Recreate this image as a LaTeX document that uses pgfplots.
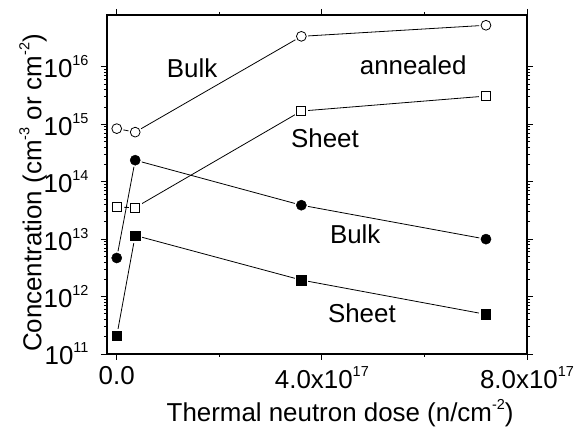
\documentclass[border=0pt]{standalone}
\usepackage{pgfplots}
\pgfplotsset{compat=1.18}
\usepackage{pgfplotstable}
\usepackage{fontspec}
\setmainfont{Liberation Sans}

\newcommand{\sups}[1]{\raisebox{0.46em}{\fontsize{14.5}{15}\selectfont #1}}
\newcommand{\tl}[1]{\hbox{\fontsize{26}{30}\selectfont #1}}

% x in units of 1e17 n/cm^2
\pgfplotstableread{
x y
0    8.4e14
0.36 7.3e14
3.6  3.4e16
7.2  5.3e16
}\bulkann
\pgfplotstableread{
x y
0    3.6e13
0.36 3.55e13
3.6  1.7e15
7.2  3.1e15
}\sheetann
\pgfplotstableread{
x y
0    4.7e12
0.36 2.37e14
3.6  3.9e13
7.2  1.0e13
}\bulk
\pgfplotstableread{
x y
0    2.06e11
0.36 1.16e13
3.6  1.94e12
7.2  4.9e11
}\sheet

\begin{document}
\begin{tikzpicture}
\begin{axis}[
    at={(0,0)},anchor=south west,
    scale only axis,
    width=420bp,height=339bp,
    ymode=log,
    xmin=-0.19,xmax=8,
    ymin=1e11,ymax=8e16,
    xtick={0,4,8},
    xticklabels={\tl{0.0},\tl{4.0x10\sups{17}},\tl{8.0x10\sups{17}}},
    minor xtick={2,6},
    ytick={1e11,1e12,1e13,1e14,1e15,1e16},
    yticklabels={\tl{10\sups{11}},\tl{10\sups{12}},\tl{10\sups{13}},\tl{10\sups{14}},\tl{10\sups{15}},\tl{10\sups{16}}},
    xticklabel pos=bottom,
    yticklabel pos=left,
    yticklabel style={xshift=-9bp},
    xticklabel style={yshift=-3bp},
    tick align=outside,
    major tick length=6bp,
    minor tick length=3bp,
    axis line style={line width=1.1bp},
    every tick/.style={black,line width=0.9bp},
    xlabel={Thermal neutron dose (n/cm\sups{-2})},
    ylabel={Concentration (cm\sups{-3} or cm\sups{-2})},
    label style={font=\fontsize{26}{30}\selectfont},
    xlabel style={at={(axis description cs:0.555,-0.174)},anchor=center},
    ylabel style={at={(axis description cs:-0.176,0.475)},anchor=center},
    clip=false,
]
% connecting lines
\addplot[black,line width=0.8bp] table {\bulkann};
\addplot[black,line width=0.8bp] table {\sheetann};
\addplot[black,line width=0.8bp] table {\bulk};
\addplot[black,line width=0.8bp] table {\sheet};
% white halos so lines stop short of the marks
\addplot[only marks,mark=*,mark size=6.6bp,white] table {\bulkann};
\addplot[only marks,mark=square*,mark size=6.3bp,white] table {\sheetann};
\addplot[only marks,mark=*,mark size=6.6bp,white] table {\bulk};
\addplot[only marks,mark=square*,mark size=6.3bp,white] table {\sheet};
% marks
\addplot[only marks,mark=o,mark size=4.9bp,mark options={line width=0.8bp,fill=white}] table {\bulkann};
\addplot[only marks,mark=square,mark size=4.5bp,mark options={line width=0.8bp,fill=white}] table {\sheetann};
\addplot[only marks,mark=*,mark size=5.1bp,black] table {\bulk};
\addplot[only marks,mark=square*,mark size=4.7bp,black] table {\sheet};
% annotations
\node[font=\fontsize{26}{30}\selectfont] at (axis cs:1.47,9.4e15) {Bulk};
\node[font=\fontsize{26}{30}\selectfont] at (axis cs:5.78,1.07e16) {annealed};
\node[font=\fontsize{26}{30}\selectfont] at (axis cs:4.06,5.8e14) {Sheet};
\node[font=\fontsize{26}{30}\selectfont] at (axis cs:4.65,1.2e13) {Bulk};
\node[font=\fontsize{26}{30}\selectfont] at (axis cs:4.78,5.1e11) {Sheet};
\end{axis}
\pgfresetboundingbox
\useasboundingbox (-107bp,-73bp) rectangle (467bp,354bp);
\end{tikzpicture}
\end{document}
